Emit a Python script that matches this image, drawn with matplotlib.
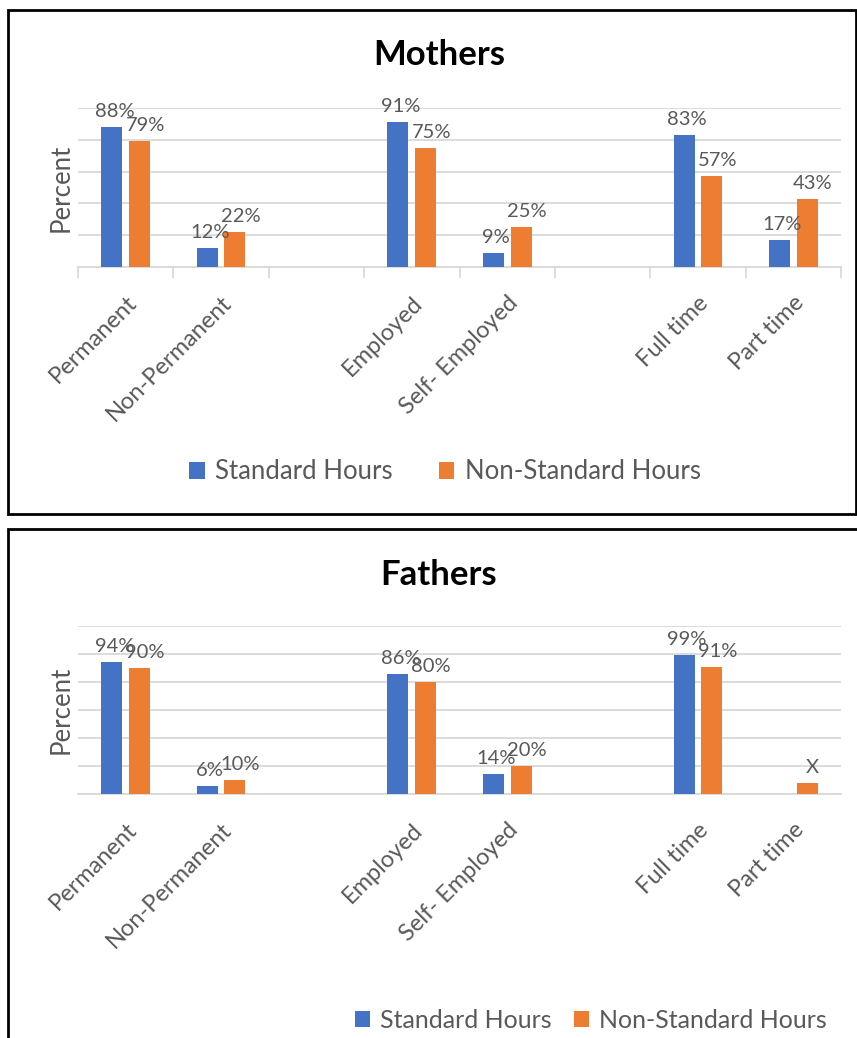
import matplotlib
matplotlib.use("Agg")
import matplotlib.pyplot as plt
from matplotlib.patches import Rectangle
import numpy as np

plt.rcParams['font.family'] = ['Lato', 'DejaVu Sans']

categories = ["Permanent", "Non-Permanent", "", "Employed", "Self- Employed", "", "Full time", "Part time"]
series_names = ["Standard Hours", "Non-Standard Hours"]

mothers_std = [88, 12, None, 91, 9, None, 83, 17]
mothers_non = [79, 22, None, 75, 25, None, 57, 43]
mothers_std_lbl = ["88%", "12%", "", "91%", "9%", "", "83%", "17%"]
mothers_non_lbl = ["79%", "22%", "", "75%", "25%", "", "57%", "43%"]

fathers_std = [94, 6, None, 86, 14, None, 99, None]
fathers_non = [90, 10, None, 80, 20, None, 91, 8]
fathers_std_lbl = ["94%", "6%", "", "86%", "14%", "", "99%", ""]
fathers_non_lbl = ["90%", "10%", "", "80%", "20%", "", "91%", "X"]

BLUE = "#4472C4"
ORANGE = "#ED7D31"
TXT = "#595959"
GRID = "#D9D9D9"

W, H = 857, 1038
fig = plt.figure(figsize=(W / 100, H / 100), dpi=100)


def fx(px):
    return px / W


def fy(py):
    return 1 - py / H


# panel frames
fig.patches.append(Rectangle((fx(8), fy(514)), fx(848), fy(10) - fy(514),
                             transform=fig.transFigure, fill=False, lw=2, ec="black"))
fig.patches.append(Rectangle((fx(8), fy(1060)), fx(880), fy(529) - fy(1060),
                             transform=fig.transFigure, fill=False, lw=2, ec="black"))


def panel(top_px, bottom_px, ymax, std, non, std_lbl, non_lbl, title, title_y,
          legend_y, legend_x, ticks, legend_fs, colspace):
    ax = fig.add_axes([fx(78), fy(bottom_px), fx(841) - fx(78), fy(top_px) - fy(bottom_px)])
    x = np.arange(len(categories))
    bw = 0.22
    off = 0.145
    s = np.array([np.nan if v is None else v for v in std], dtype=float)
    n = np.array([np.nan if v is None else v for v in non], dtype=float)
    b1 = ax.bar(x - off, s, bw, color=BLUE, label=series_names[0], zorder=3)
    b2 = ax.bar(x + off, n, bw, color=ORANGE, label=series_names[1], zorder=3)
    for bars, vals, lbls, dx in ((b1, s, std_lbl, 2), (b2, n, non_lbl, 4)):
        for rect, v, lb in zip(bars, vals, lbls):
            if lb and not np.isnan(v):
                ax.annotate(lb, (rect.get_x() + rect.get_width() / 2, v),
                            xytext=(dx, 5), textcoords="offset points",
                            ha="center", va="bottom", fontsize=14.5, color=TXT,
                            annotation_clip=False, zorder=4)
    ax.set_xlim(-0.5, len(categories) - 0.5)
    ax.set_ylim(0, ymax)
    ax.set_yticks(np.arange(0, ymax + 1, 20))
    ax.yaxis.grid(True, color=GRID, lw=1.3, zorder=0)
    ax.set_yticklabels([])
    ax.tick_params(axis="y", length=0)
    for sp in ("left", "right", "top"):
        ax.spines[sp].set_visible(False)
    ax.spines["bottom"].set_color(GRID)
    ax.spines["bottom"].set_linewidth(1.3)
    ax.set_xticks(x)
    ax.set_xticklabels(categories, rotation=45, ha="right", rotation_mode="anchor",
                       fontsize=17, color=TXT)
    if ticks:
        ax.set_xticks(np.arange(-0.5, len(categories), 1.0), minor=True)
        ax.tick_params(axis="x", which="minor", length=8, color=GRID, width=1.3)
    ax.tick_params(axis="x", which="major", length=0, pad=18)
    ax.set_ylabel("Percent", fontsize=18.5, color=TXT, labelpad=0)
    fig.text(fx(439), fy(title_y), title, ha="center", va="center",
             fontsize=25, fontweight="bold", color="black")
    fig.legend(handles=[b1, b2], loc="center", bbox_to_anchor=(fx(legend_x), fy(legend_y)),
               ncol=2, frameon=False, fontsize=legend_fs, labelcolor=TXT,
               handlelength=0.6, handleheight=0.6, handletextpad=0.4, columnspacing=colspace)
    return ax


panel(108, 267, 100, mothers_std, mothers_non, mothers_std_lbl, mothers_non_lbl,
      "Mothers", 55, 472, 445, True, 18.5, 1.8)
panel(626, 794, 120, fathers_std, fathers_non, fathers_std_lbl, fathers_non_lbl,
      "Fathers", 575, 1020, 591, False, 18, 0.9)

fig.savefig("out.png", dpi=100)
